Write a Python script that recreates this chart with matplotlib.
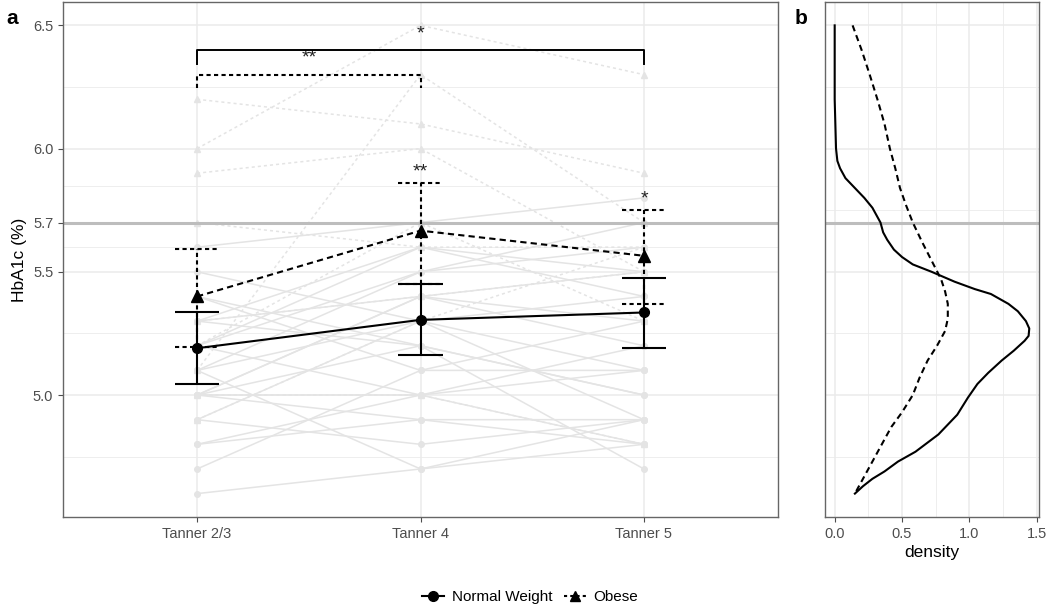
import numpy as np
import matplotlib
matplotlib.use("Agg")
import matplotlib.pyplot as plt
from matplotlib.lines import Line2D

plt.rcParams['font.family'] = ['Liberation Sans', 'DejaVu Sans']

# ---- data -----------------------------------------------------------
stages = ['Tanner 2/3', 'Tanner 4', 'Tanner 5']

# individual trajectories (HbA1c at each stage)
nw_subjects = [
    [4.6, 4.7, 4.9], [4.7, 5.1, 5.3], [4.8, 4.9, 4.8], [4.8, 5.0, 5.2],
    [4.9, 4.8, 4.9], [5.0, 5.0, 4.8], [5.0, 4.9, 4.9], [5.0, 5.4, 5.5],
    [5.0, 5.2, 5.0], [5.1, 5.5, 5.6], [5.1, 5.3, 5.1], [5.2, 5.5, 5.7],
    [5.2, 5.0, 5.1], [5.3, 5.4, 5.2], [5.3, 5.6, 5.4], [5.3, 5.2, 4.7],
    [5.4, 5.2, 5.0], [5.4, 5.1, 5.1], [5.5, 5.3, 4.9], [5.6, 5.7, 5.8],
    [5.2, 5.6, 5.5], [4.9, 5.3, 5.4], [5.1, 4.7, 4.8], [5.0, 5.4, 5.3],
]
ob_subjects = [
    [6.0, 6.5, 6.3], [6.2, 6.1, 5.9], [5.1, 6.3, 5.7], [5.9, 6.0, 5.5],
    [4.9, 5.3, 5.6], [5.0, 5.0, 4.8], [5.7, 5.6, 5.6], [5.3, 5.4, 5.5],
    [5.2, 5.7, 5.3],
]

# group means and error bar limits
nw_mean = [5.19, 5.305, 5.335]
nw_lo = [5.045, 5.163, 5.19]
nw_hi = [5.337, 5.45, 5.476]
ob_mean = [5.40, 5.667, 5.565]
ob_lo = [5.195, 5.45, 5.37]
ob_hi = [5.593, 5.862, 5.752]
ob_stars = ['', '**', '*']

# density curves (HbA1c, density)
nw_dens_y = [6.5, 6.2, 6.0, 5.95, 5.92, 5.88, 5.84, 5.80, 5.76, 5.70, 5.66,
             5.63, 5.59, 5.56, 5.53, 5.50, 5.46, 5.43, 5.41, 5.37, 5.34,
             5.30, 5.27, 5.24, 5.22, 5.18, 5.14, 5.09, 5.045, 4.99, 4.92,
             4.84, 4.77, 4.73, 4.69, 4.66, 4.63, 4.60]
nw_dens_x = [0.0, 0.0, 0.01, 0.02, 0.04, 0.08, 0.15, 0.22, 0.28, 0.34, 0.36,
             0.39, 0.44, 0.50, 0.58, 0.72, 0.89, 1.04, 1.16, 1.29, 1.36,
             1.42, 1.445, 1.44, 1.41, 1.33, 1.24, 1.14, 1.06, 0.99, 0.91,
             0.77, 0.60, 0.47, 0.37, 0.28, 0.21, 0.15]
ob_dens_y = [6.5, 6.40, 6.30, 6.195, 6.10, 6.0, 5.92, 5.84, 5.77, 5.70,
             5.62, 5.545, 5.47, 5.42, 5.37, 5.31, 5.26, 5.20, 5.14, 5.07,
             5.0, 4.93, 4.87, 4.80, 4.73, 4.66, 4.60]
ob_dens_x = [0.133, 0.20, 0.26, 0.32, 0.37, 0.41, 0.45, 0.485, 0.53, 0.58,
             0.65, 0.72, 0.79, 0.82, 0.84, 0.84, 0.82, 0.76, 0.69, 0.63,
             0.58, 0.50, 0.42, 0.35, 0.28, 0.21, 0.15]

ref_line = 5.7

# ---- figure ---------------------------------------------------------
fig = plt.figure(figsize=(10.5, 6.11), dpi=100)
ax1 = fig.add_axes([0.060, 0.1538, 0.681, 0.843])
ax2 = fig.add_axes([0.7857, 0.1538, 0.2038, 0.843])

grid_c = '#ebebeb'
spine_c = '#666666'
light = '#e4e4e4'
x = np.arange(1, 4)

for ax in (ax1, ax2):
    for s in ax.spines.values():
        s.set_color(spine_c)
        s.set_linewidth(1.0)
    ax.set_axisbelow(True)
    ax.tick_params(colors='#4d4d4d', labelsize=10.5, length=3.5, width=0.8)
    ax.tick_params(which='minor', length=0)
    ax.grid(which='major', color=grid_c, lw=1.1)
    ax.grid(which='minor', color=grid_c, lw=0.6)

# panel a
for s in nw_subjects:
    ax1.plot(x, s, color=light, lw=1.1, marker='o', ms=4, mec=light, mfc=light, zorder=1)
for s in ob_subjects:
    ax1.plot(x, s, color=light, lw=1.1, ls=(0, (2, 2)), marker='^', ms=4,
             mec=light, mfc=light, zorder=1)

ax1.axhline(ref_line, color='#bdbdbd', lw=2.2, zorder=2)

cw = 0.1
dot = (0, (2, 1.6))
# normal weight error bars
ax1.vlines(x, nw_lo, nw_hi, color='black', lw=1.5, zorder=4)
ax1.hlines(nw_lo, x - cw, x + cw, color='black', lw=1.5, zorder=4)
ax1.hlines(nw_hi, x - cw, x + cw, color='black', lw=1.5, zorder=4)
# obese error bars
ax1.vlines(x, ob_lo, ob_hi, color='black', lw=1.5, linestyles=[dot], zorder=4)
ax1.hlines(ob_lo, x - cw, x + cw, color='black', lw=1.5, linestyles=[dot], zorder=4)
ax1.hlines(ob_hi, x - cw, x + cw, color='black', lw=1.5, linestyles=[dot], zorder=4)

ax1.plot(x, nw_mean, color='black', lw=1.5, marker='o', ms=7, zorder=5)
ax1.plot(x, ob_mean, color='black', lw=1.5, ls=(0, (3, 2)), marker='^', ms=8, zorder=5)

for xi, hi, st in zip(x, ob_hi, ob_stars):
    if st:
        ax1.text(xi, hi + 0.01, st, ha='center', va='bottom', fontsize=14, color='#222222')

# comparison brackets
ax1.plot([1, 1, 3, 3], [6.345, 6.40, 6.40, 6.345], color='black', lw=1.4, zorder=5)
ax1.text(2, 6.43, '*', ha='center', va='bottom', fontsize=14, color='#222222')
ax1.plot([1, 1, 2, 2], [6.245, 6.30, 6.30, 6.245], color='black', lw=1.5, ls=dot, zorder=5)
ax1.text(1.5, 6.335, '**', ha='center', va='bottom', fontsize=14, color='#222222')

ax1.set_xlim(0.4, 3.6)
ax1.set_ylim(4.505, 6.595)
ax1.set_xticks(x)
ax1.set_xticklabels(stages)
ax1.set_yticks([5.0, 5.5, 5.7, 6.0, 6.5])
ax1.set_yticklabels(['5.0', '5.5', '5.7', '6.0', '6.5'])
ax1.set_yticks([4.75, 5.25, 5.6, 5.85, 6.25], minor=True)
ax1.set_ylabel('HbA1c (%)', fontsize=12.5, color='black', labelpad=4)

# panel b
ax2.axhline(ref_line, color='#bdbdbd', lw=2.2, zorder=2)
ax2.plot(nw_dens_x, nw_dens_y, color='black', lw=1.5, zorder=3)
ax2.plot(ob_dens_x, ob_dens_y, color='black', lw=1.5, ls=(0, (3, 2)), zorder=3)
ax2.set_xlim(-0.072, 1.517)
ax2.set_ylim(4.505, 6.595)
ax2.set_xticks([0.0, 0.5, 1.0, 1.5])
ax2.set_xticklabels(['0.0', '0.5', '1.0', '1.5'])
ax2.set_xticks([0.25, 0.75, 1.25], minor=True)
ax2.set_yticks([5.0, 5.5, 6.0, 6.5])
ax2.set_yticks([4.75, 5.25, 5.75, 6.25], minor=True)
ax2.tick_params(axis='y', which='both', length=0, labelleft=False)
ax2.set_xlabel('density', fontsize=12.5, color='black', labelpad=3)

fig.text(0.006, 0.985, 'a', fontsize=15, fontweight='bold', va='top')
fig.text(0.757, 0.985, 'b', fontsize=15, fontweight='bold', va='top')

handles = [
    Line2D([], [], color='black', lw=1.5, marker='o', ms=7),
    Line2D([], [], color='black', lw=1.5, ls=(0, (1.5, 1.5)), marker='^', ms=7),
]
fig.legend(handles, ['Normal Weight', 'Obese'], loc='center', bbox_to_anchor=(0.505, 0.023),
           ncol=2, frameon=False, fontsize=11, handlelength=1.4, columnspacing=0.8,
           handletextpad=0.5)

fig.savefig('out.png', dpi=100)
